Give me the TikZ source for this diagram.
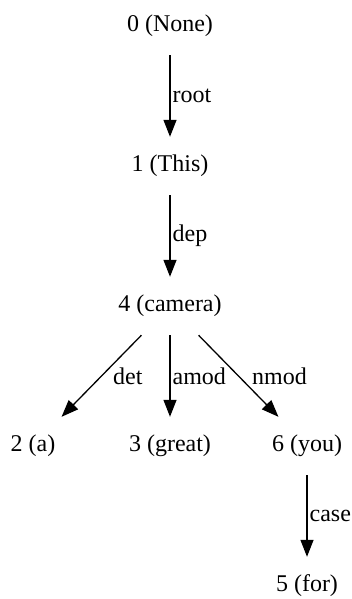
\documentclass[tikz,border=0pt]{standalone}
\usepackage{fontspec}
\setmainfont{Liberation Serif}
\usetikzlibrary{arrows.meta,positioning}

\begin{document}
\begin{tikzpicture}[
    x=1pt,y=-1pt,
    node distance=140pt and 137pt,on grid,
    word/.style={rectangle,minimum width=80pt,minimum height=58pt,inner sep=0pt,font=\fontsize{24}{28}\selectfont},
    rel/.style={anchor=west,inner sep=2pt,font=\fontsize{24}{28}\selectfont},
    arrow/.style={line width=1.3pt,-{Triangle[length=17pt,width=13pt]}}
]
    \useasboundingbox (0,0) rectangle (352,599);

    \node[word] (n0) at (170,26) {0 (None)};
    \node[word,below=of n0] (n1) {1 (This)};
    \node[word,below=of n1] (n4) {4 (camera)};
    \node[word,below=of n4] (n3) {3 (great)};
    \node[word,left=of n3] (n2) {2 (a)};
    \node[word,right=of n3] (n6) {6 (you)};
    \node[word,below=of n6] (n5) {5 (for)};

    \draw[arrow] (n0) -- node[rel] {root} (n1);
    \draw[arrow] (n1) -- node[rel] {dep} (n4);
    \draw[arrow] (n4) -- node[rel,xshift=9pt] {det} (n2);
    \draw[arrow] (n4) -- node[rel] {amod} (n3);
    \draw[arrow] (n4) -- node[rel,xshift=11pt] {nmod} (n6);
    \draw[arrow] (n6) -- node[rel] {case} (n5);
\end{tikzpicture}
\end{document}
